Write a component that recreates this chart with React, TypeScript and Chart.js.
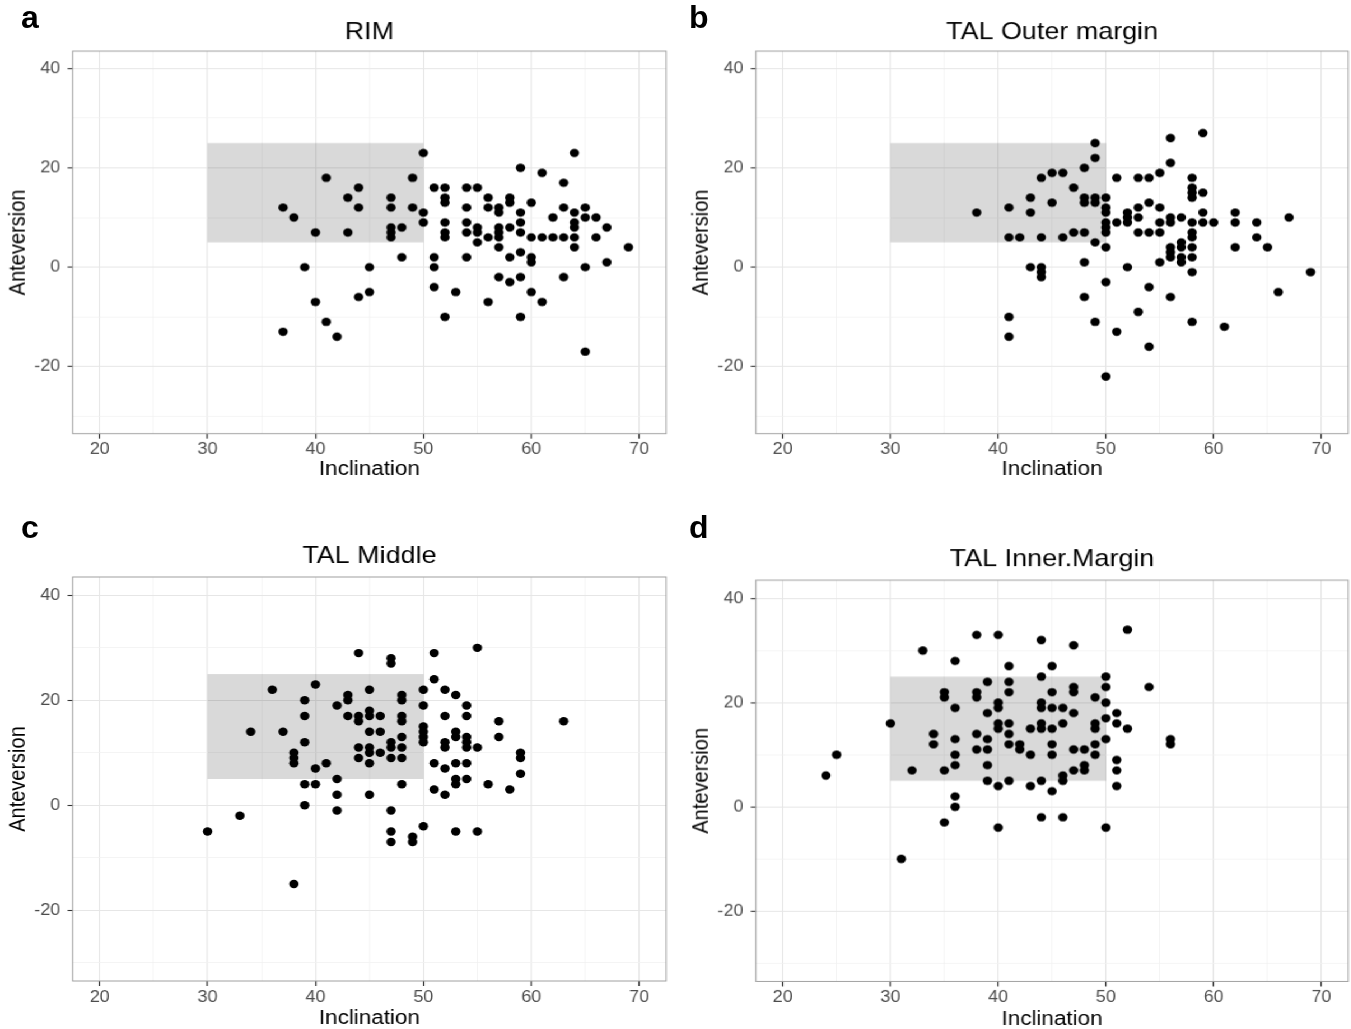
import React, { useEffect, useRef } from "react";
import { Chart, registerables } from "chart.js";

Chart.register(...registerables);

// ---------- data (Inclination, Anteversion) ----------
const rimPoints: number[][] = [
  [50, 23], [41, 18], [49, 18], [44, 16], [43, 14], [44, 12], [47, 14], [47, 12], [49, 12], [50, 11], [50, 9],
  [37, 12], [38, 10], [40, 7], [43, 7], [47, 8], [47, 7], [47, 6], [48, 8], [48, 2], [39, 0], [45, 0], [45, -5],
  [44, -6], [40, -7], [41, -11], [37, -13], [42, -14],
  [64, 23], [59, 20], [61, 19], [63, 17], [51, 16], [52, 16], [54, 16], [55, 16], [52, 14], [52, 13], [56, 14],
  [56, 12], [58, 14], [58, 13], [57, 12], [57, 11], [54, 12], [60, 13], [59, 11], [63, 12], [64, 11], [65, 12],
  [65, 10], [66, 10], [62, 10], [64, 9], [64, 8], [67, 8], [52, 9], [54, 9], [59, 9], [58, 8], [52, 7], [52, 6],
  [54, 7], [55, 8], [55, 7], [55, 5], [56, 6], [57, 8], [57, 7], [57, 6], [59, 7], [60, 6], [61, 6], [62, 6],
  [63, 6], [64, 6], [66, 6], [64, 4], [69, 4], [57, 4], [51, 2], [51, 0], [54, 2], [58, 2], [59, 3], [60, 2],
  [60, 1], [65, 0], [67, 1], [57, -2], [58, -3], [59, -2], [63, -2], [51, -4], [53, -5], [60, -5], [56, -7],
  [61, -7], [52, -10], [59, -10], [65, -17],
];

const outerPoints: number[][] = [
  [49, 25], [49, 22], [48, 20], [44, 18], [45, 19], [46, 19], [47, 16], [43, 14], [45, 13], [48, 14], [48, 13],
  [49, 14], [49, 13], [50, 14], [50, 12], [50, 11], [50, 9], [50, 8], [50, 7], [38, 11], [41, 12], [43, 11],
  [41, 6], [42, 6], [44, 6], [46, 6], [47, 7], [48, 7], [49, 5], [50, 4], [43, 0], [44, 0], [44, -1], [44, -2],
  [48, 1], [50, -3], [48, -6], [49, -11], [41, -10], [41, -14], [50, -22],
  [56, 26], [59, 27], [56, 21], [55, 19], [51, 18], [53, 18], [54, 18], [58, 18], [58, 16], [58, 15], [58, 14],
  [59, 15], [54, 13], [53, 12], [55, 12], [52, 11], [52, 10], [52, 9], [51, 9], [53, 10], [53, 7], [54, 7],
  [55, 7], [55, 9], [56, 10], [56, 9], [57, 10], [58, 9], [59, 11], [59, 9], [60, 9], [62, 11], [62, 9], [64, 9],
  [67, 10], [58, 7], [58, 6], [64, 6], [62, 4], [65, 4], [57, 5], [57, 4], [56, 4], [56, 3], [56, 2], [57, 2],
  [57, 1], [58, 4], [58, 2], [58, -1], [55, 1], [52, 0], [54, -4], [56, -6], [69, -1], [66, -5], [53, -9],
  [51, -13], [58, -11], [61, -12], [54, -16],
];

const middlePoints: number[][] = [
  [44, 29], [47, 28], [47, 27], [40, 23], [36, 22], [45, 22], [50, 22], [43, 21], [43, 20], [48, 21], [48, 20],
  [39, 20], [42, 19], [39, 17], [43, 17], [44, 17], [44, 16], [45, 18], [45, 17], [46, 17], [48, 17], [48, 16],
  [50, 15], [50, 14], [50, 13], [50, 12], [34, 14], [37, 14], [39, 12], [45, 14], [46, 14], [48, 13], [44, 11],
  [45, 11], [45, 10], [47, 12], [47, 11], [48, 11], [38, 10], [38, 9], [38, 8], [44, 9], [46, 10], [45, 8],
  [47, 9], [48, 9], [41, 8], [40, 7], [39, 4], [40, 4], [42, 5], [48, 4], [42, 2], [45, 2], [39, 0], [42, -1],
  [47, -1], [33, -2], [30, -5], [50, -4], [47, -5], [47, -7], [49, -6], [49, -7], [38, -15],
  [51, 29], [55, 30], [51, 24], [52, 22], [53, 21], [50, 19], [54, 19], [54, 17], [52, 17], [57, 16], [63, 16],
  [57, 13], [53, 14], [53, 13], [52, 12], [52, 11], [54, 13], [54, 12], [54, 11], [55, 11], [59, 10], [59, 9],
  [51, 8], [52, 7], [53, 8], [54, 8], [59, 6], [53, 5], [53, 4], [54, 5], [56, 4], [58, 3], [51, 3], [52, 2],
  [53, -5], [55, -5],
];

const innerPoints: number[][] = [
  [38, 33], [40, 33], [33, 30], [36, 28], [41, 27], [39, 24], [41, 24], [41, 22], [35, 22], [35, 21], [38, 22],
  [38, 21], [36, 19], [40, 20], [40, 19], [39, 18], [30, 16], [40, 16], [40, 15], [41, 16], [41, 14], [34, 14],
  [34, 12], [36, 13], [38, 14], [39, 13], [41, 12], [42, 12], [42, 11], [36, 10], [38, 11], [39, 11], [36, 8],
  [39, 8], [32, 7], [35, 7], [39, 5], [40, 4], [41, 5], [25, 10], [24, 6], [36, 2], [36, 0], [35, -3], [40, -4],
  [31, -10],
  [52, 34], [44, 32], [47, 31], [45, 27], [44, 25], [50, 25], [50, 23], [54, 23], [47, 23], [47, 22], [45, 22],
  [49, 21], [50, 20], [44, 20], [44, 19], [45, 19], [46, 19], [47, 18], [51, 18], [50, 17], [51, 16], [52, 15],
  [43, 15], [44, 16], [44, 15], [45, 15], [46, 16], [49, 16], [49, 15], [50, 13], [43, 10], [45, 12], [45, 10],
  [47, 11], [48, 11], [49, 12], [49, 10], [51, 9], [51, 7], [51, 4], [48, 8], [48, 7], [47, 7], [46, 6], [46, 5],
  [44, 5], [43, 4], [45, 3], [56, 13], [56, 12], [44, -2], [46, -2], [50, -4],
];

const panelTitles = ["RIM", "TAL Outer margin", "TAL Middle", "TAL Inner.Margin"];
const panelLetters = ["a", "b", "c", "d"];
const xAxisTitle = "Inclination";
const yAxisTitle = "Anteversion";
const xMajorTicks = [20, 30, 40, 50, 60, 70];
const xMinorTicks = [25, 35, 45, 55, 65];
const yMajorTicks = [-20, 0, 20, 40];
const yMinorTicks = [-30, -10, 10, 30];
const xLimits = [17.5, 72.5];
const yLimits = [-33.5, 43.5];
const shadeX = [30, 50];
const shadeY = [5, 25];

// ---------- style / layout ----------
const FONT = "'Liberation Sans', Arial, Helvetica, sans-serif";
const S = 1.12; // horizontal stretch of the original figure
const TITLE_SIZE = 24;
const AXIS_SIZE = 20;
const TICK_SIZE = 16;

type Layout = {
  left: number; right: number; top: number; bottom: number;
  titleY: number; xTitleY: number; rowTop: number;
  letterX: number; letterY: number;
};

const layouts: Layout[] = [
  { left: 72.5, right: 665, top: 51, bottom: 432.7, titleY: 32, xTitleY: 468, rowTop: 0, letterX: 21, letterY: 1 },
  { left: 755.5, right: 1347, top: 51, bottom: 432.7, titleY: 32, xTitleY: 468, rowTop: 0, letterX: 689, letterY: 1 },
  { left: 72.5, right: 665, top: 577, bottom: 981, titleY: 556, xTitleY: 1018, rowTop: 500, letterX: 21, letterY: 511 },
  { left: 755.5, right: 1347, top: 580, bottom: 980.5, titleY: 559, xTitleY: 1018, rowTop: 500, letterX: 689, letterY: 511 },
];

const allPanels = [rimPoints, outerPoints, middlePoints, innerPoints];

const shadePlugin = {
  id: "shadeRect",
  beforeDatasetsDraw(chart: any) {
    const { ctx, chartArea, scales } = chart;
    const x0 = scales.x.getPixelForValue(shadeX[0]);
    const x1 = scales.x.getPixelForValue(shadeX[1]);
    const y0 = scales.y.getPixelForValue(shadeY[0]);
    const y1 = scales.y.getPixelForValue(shadeY[1]);
    ctx.save();
    ctx.beginPath();
    ctx.rect(chartArea.left, chartArea.top, chartArea.right - chartArea.left, chartArea.bottom - chartArea.top);
    ctx.clip();
    ctx.fillStyle = "rgba(0,0,0,0.15)";
    ctx.fillRect(x0, y1, x1 - x0, y0 - y1);
    ctx.restore();
  },
};

const borderPlugin = {
  id: "panelBorder",
  afterDraw(chart: any) {
    const { ctx, chartArea: a } = chart;
    ctx.save();
    ctx.strokeStyle = "#a0a0a0";
    ctx.lineWidth = 1;
    ctx.strokeRect(a.left, a.top, a.right - a.left, a.bottom - a.top);
    ctx.restore();
  },
};

function Panel({ idx }: { idx: number }) {
  const ref = useRef<HTMLCanvasElement | null>(null);
  const L = layouts[idx];
  const yW = 72.5 / S;
  const plotLeft = L.left / S;
  const plotRight = L.right / S;
  const canvasLeft = plotLeft - yW;
  const padR = 6;
  const W = plotRight - canvasLeft + padR;
  const xh = 50;
  const padB = 2;
  const H = L.bottom - L.rowTop + xh + padB;
  const titleLH = TITLE_SIZE * 1.2;
  const tPadTop = L.titleY - L.rowTop - titleLH / 2;
  const tPadBottom = L.top - L.titleY - titleLH / 2;
  const axLH = AXIS_SIZE * 1.2;
  const xtPadBottom = Math.max(0, xh - axLH / 2 - (L.xTitleY - L.bottom));
  const ytPadTop = 16.1 - axLH / 2;

  useEffect(() => {
    if (!ref.current) return;
    const pts = allPanels[idx];
    const isMajorX = (v: number) => xMajorTicks.includes(v);
    const isMajorY = (v: number) => yMajorTicks.includes(v);
    const chart = new Chart(ref.current, {
      type: "scatter",
      data: {
        datasets: [
          {
            data: pts.map((p) => ({ x: p[0], y: p[1] })),
            backgroundColor: "#000000",
            borderColor: "#000000",
            borderWidth: 0,
            pointRadius: 4.2,
            pointHoverRadius: 4.2,
          },
        ],
      },
      options: {
        animation: false,
        responsive: true,
        maintainAspectRatio: false,
        devicePixelRatio: 1,
        events: [],
        layout: { padding: { left: 0, top: 0, right: padR, bottom: padB } },
        plugins: {
          legend: { display: false },
          tooltip: { enabled: false },
          title: {
            display: true,
            text: panelTitles[idx],
            fullSize: false,
            color: "#000000",
            font: { family: FONT, size: TITLE_SIZE, weight: "normal", lineHeight: 1.2 },
            padding: { top: tPadTop, bottom: tPadBottom },
          },
        },
        scales: {
          x: {
            type: "linear",
            position: "bottom",
            min: xLimits[0],
            max: xLimits[1],
            afterBuildTicks: (scale: any) => {
              scale.ticks = [...xMajorTicks, ...xMinorTicks].sort((a, b) => a - b).map((v) => ({ value: v }));
            },
            afterFit: (scale: any) => {
              scale.height = xh;
            },
            ticks: {
              autoSkip: false,
              maxRotation: 0,
              padding: 1.5,
              color: "#4d4d4d",
              font: { family: FONT, size: TICK_SIZE, lineHeight: 1.2 },
              callback: (v: any) => (isMajorX(Number(v)) ? String(v) : ""),
            },
            grid: {
              color: (c: any) => (c.tick && isMajorX(c.tick.value) ? "#e6e6e6" : "#f1f1f1"),
              lineWidth: (c: any) => (c.tick && isMajorX(c.tick.value) ? 1.1 : 0.8),
              tickColor: (c: any) => (c.tick && isMajorX(c.tick.value) ? "#333333" : "rgba(0,0,0,0)"),
              tickLength: 5,
              tickWidth: 1.2,
              drawTicks: true,
            },
            border: { display: false },
            title: {
              display: true,
              text: xAxisTitle,
              color: "#000000",
              font: { family: FONT, size: AXIS_SIZE, lineHeight: 1.2 },
              padding: { top: 0, bottom: xtPadBottom },
            },
          },
          y: {
            type: "linear",
            position: "left",
            min: yLimits[0],
            max: yLimits[1],
            afterBuildTicks: (scale: any) => {
              scale.ticks = [...yMajorTicks, ...yMinorTicks].sort((a, b) => a - b).map((v) => ({ value: v }));
            },
            afterFit: (scale: any) => {
              scale.width = yW;
            },
            ticks: {
              autoSkip: false,
              padding: 6.5,
              color: "#4d4d4d",
              font: { family: FONT, size: TICK_SIZE, lineHeight: 1.2 },
              callback: (v: any) => (isMajorY(Number(v)) ? String(v) : ""),
            },
            grid: {
              color: (c: any) => (c.tick && isMajorY(c.tick.value) ? "#e6e6e6" : "#f1f1f1"),
              lineWidth: (c: any) => (c.tick && isMajorY(c.tick.value) ? 1 : 0.8),
              tickColor: (c: any) => (c.tick && isMajorY(c.tick.value) ? "#333333" : "rgba(0,0,0,0)"),
              tickLength: 4.5,
              tickWidth: 1.1,
              drawTicks: true,
            },
            border: { display: false },
            title: {
              display: true,
              text: yAxisTitle,
              color: "#000000",
              font: { family: FONT, size: AXIS_SIZE, lineHeight: 1.2 },
              padding: { top: ytPadTop, bottom: 0 },
            },
          },
        },
      } as any,
      plugins: [shadePlugin, borderPlugin],
    });
    return () => chart.destroy();
  }, [idx]);

  return (
    <div
      style={{
        position: "absolute",
        left: canvasLeft,
        top: L.rowTop,
        width: W,
        height: H,
      }}
    >
      <canvas ref={ref} style={{ display: "block" }} />
    </div>
  );
}

export default function App() {
  return (
    <div
      style={{
        position: "absolute",
        left: 0,
        top: 0,
        width: 1351,
        height: 1029,
        overflow: "hidden",
        background: "#ffffff",
      }}
    >
      <div
        style={{
          position: "absolute",
          left: 0,
          top: 0,
          width: 1351 / S,
          height: 1029,
          transform: `scaleX(${S})`,
          transformOrigin: "0 0",
        }}
      >
        {[0, 1, 2, 3].map((i) => (
          <Panel key={i} idx={i} />
        ))}
      </div>
      {panelLetters.map((t, i) => (
        <div
          key={t}
          style={{
            position: "absolute",
            left: layouts[i].letterX,
            top: layouts[i].letterY,
            fontFamily: FONT,
            fontWeight: "bold",
            fontSize: 32,
            lineHeight: "32px",
            color: "#000000",
          }}
        >
          {t}
        </div>
      ))}
    </div>
  );
}
